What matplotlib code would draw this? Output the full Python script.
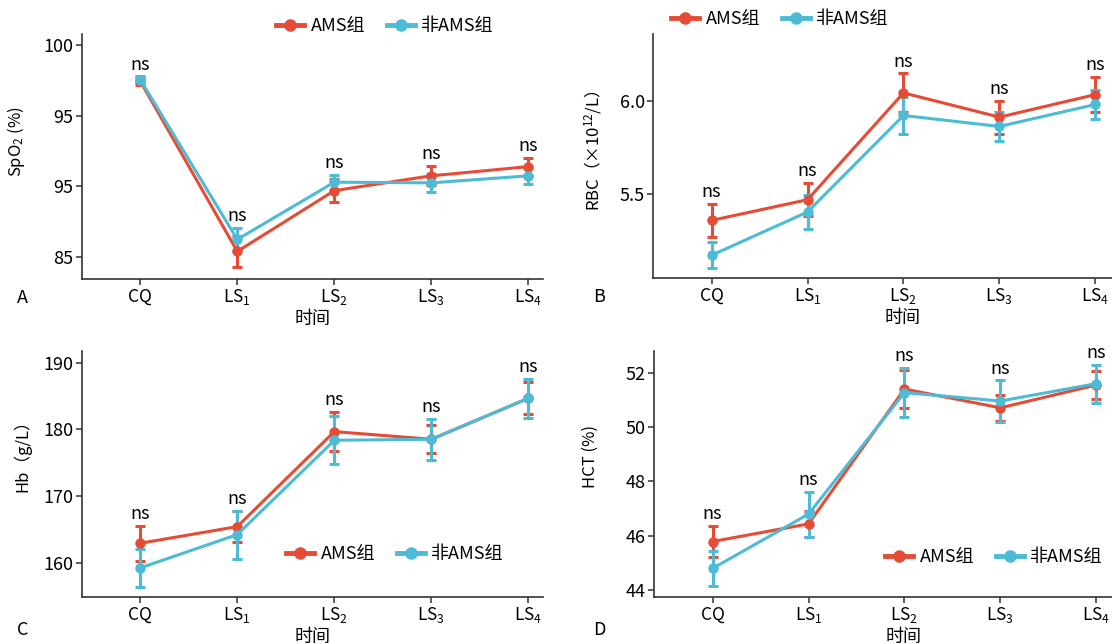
import numpy as np
import matplotlib.pyplot as plt
from matplotlib.lines import Line2D

plt.rcParams['font.family'] = ['Noto Sans CJK SC', 'DejaVu Sans']
plt.rcParams['mathtext.default'] = 'regular'
plt.rcParams['axes.unicode_minus'] = False

# 时间点
times = ['CQ', 'LS$_1$', 'LS$_2$', 'LS$_3$', 'LS$_4$']
groups = ['AMS组', '非AMS组']
colors = ['#E64B35', '#4DBBD5']

# A: SpO2
spo2_ams = [97.45, 85.4, 89.7, 90.75, 91.4]
spo2_ams_err = [0.3, 1.1, 0.8, 0.68, 0.63]
spo2_non = [97.55, 86.25, 90.3, 90.25, 90.75]
spo2_non_err = [0.23, 0.82, 0.52, 0.66, 0.59]
spo2_ticks = [85, 90, 95, 100]
spo2_ticklabels = ['85', '95', '95', '100']

# B: RBC
rbc_ams = [5.357, 5.468, 6.041, 5.911, 6.032]
rbc_ams_err = [0.087, 0.089, 0.105, 0.089, 0.093]
rbc_non = [5.170, 5.402, 5.920, 5.861, 5.979]
rbc_non_err = [0.07, 0.089, 0.10, 0.079, 0.08]
rbc_ticks = [5.5, 6.0]
rbc_ticklabels = ['5.5', '6.0']

# C: Hb
hb_ams = [162.9, 165.4, 179.65, 178.5, 184.65]
hb_ams_err = [2.6, 2.3, 2.9, 2.1, 2.4]
hb_non = [159.2, 164.2, 178.35, 178.5, 184.65]
hb_non_err = [2.8, 3.6, 3.6, 3.1, 2.9]
hb_ticks = [160, 170, 180, 190]
hb_ticklabels = ['160', '170', '180', '190']

# D: HCT
hct_ams = [45.79, 46.44, 51.4, 50.71, 51.55]
hct_ams_err = [0.57, 0.47, 0.7, 0.48, 0.53]
hct_non = [44.8, 46.8, 51.27, 50.96, 51.6]
hct_non_err = [0.63, 0.83, 0.9, 0.76, 0.7]
hct_ticks = [44, 46, 48, 50, 52]
hct_ticklabels = ['44', '46', '48', '50', '52']

W, H = 1112, 644
fig = plt.figure(figsize=(W / 100, H / 100), dpi=100)


def px_axes(left, top, right, bottom):
    return fig.add_axes([left / W, 1 - bottom / H, (right - left) / W, (bottom - top) / H])


def panel(ax, ams, ams_err, non, non_err, ylim, xlim, ticks, ticklabels, ylabel, ylab_pos):
    x = np.arange(len(times))
    for vals, errs, c in [(ams, ams_err, colors[0]), (non, non_err, colors[1])]:
        ax.errorbar(x, vals, yerr=errs, color=c, lw=2.2, marker='o', ms=6.5,
                    capsize=3.8, capthick=2.2, elinewidth=2.2)
    for i in x:
        top = max(ams[i] + ams_err[i], non[i] + non_err[i])
        ax.annotate('ns', (i, top), xytext=(0, 2), textcoords='offset points',
                    ha='center', va='bottom', fontsize=13, annotation_clip=False)
    ax.set_xlim(*xlim)
    ax.set_ylim(*ylim)
    ax.set_xticks(x)
    ax.set_xticklabels(times)
    ax.set_yticks(ticks)
    ax.set_yticklabels(ticklabels)
    ax.set_ylabel(ylabel, fontsize=12)
    ax.yaxis.set_label_coords(*ylab_pos)
    ax.set_xlabel('时间', fontsize=13, labelpad=2)
    for s in ['top', 'right']:
        ax.spines[s].set_visible(False)
    for s in ['left', 'bottom']:
        ax.spines[s].set_linewidth(1.2)
        ax.spines[s].set_color('#333333')
    ax.tick_params(length=4, width=1.1, color='#333333', labelsize=13, pad=2)
    ax.tick_params(axis='x', labelsize=12.5)


axA = px_axes(82, 34, 543, 279)
panel(axA, spo2_ams, spo2_ams_err, spo2_non, spo2_non_err, (83.45, 100.78),
      (-0.6, 4.15), spo2_ticks, spo2_ticklabels, 'SpO$_2$ (%)', (-0.119, 0.56))

axB = px_axes(653, 34, 1153, 278)
panel(axB, rbc_ams, rbc_ams_err, rbc_non, rbc_non_err, (5.048, 6.357),
      (-0.61, 4.6), rbc_ticks, rbc_ticklabels, 'RBC（×10$^{12}$/L）', (-0.099, 0.52))

axC = px_axes(82, 351, 543, 597)
panel(axC, hb_ams, hb_ams_err, hb_non, hb_non_err, (154.84, 191.74),
      (-0.6, 4.15), hb_ticks, hb_ticklabels, 'Hb（g/L）', (-0.11, 0.59))

axD = px_axes(654, 351, 1154, 597)
panel(axD, hct_ams, hct_ams_err, hct_non, hct_non_err, (43.75, 52.8),
      (-0.61, 4.6), hct_ticks, hct_ticklabels, 'HCT (%)', (-0.111, 0.57))

handles = [Line2D([], [], color=c, lw=3.5, marker='o', ms=8) for c in colors]
for cx, cy in [(385, 26), (780, 19), (395, 554), (994, 557)]:
    fig.legend(handles, groups, loc='center', bbox_to_anchor=(cx / W, 1 - cy / H),
               ncol=2, frameon=False, fontsize=13, handlelength=1.55,
               handletextpad=0.35, columnspacing=1.2, borderpad=0.2)

for letter, lx, ly in [('A', 17, 298), ('B', 593, 297), ('C', 17, 630), ('D', 593, 630)]:
    fig.text(lx / W, 1 - ly / H, letter, fontsize=13, va='center', ha='left')

fig.savefig('out.png', dpi=100)
